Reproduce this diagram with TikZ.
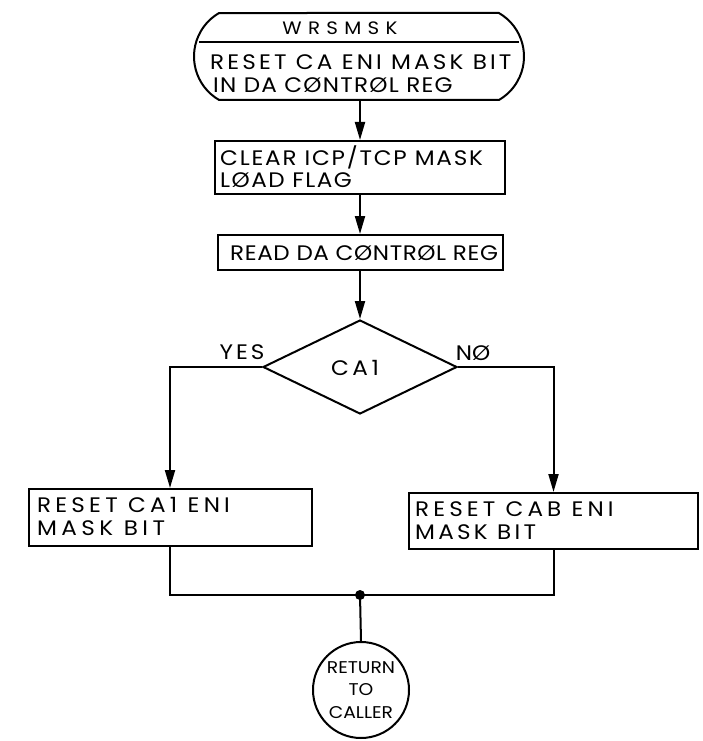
\documentclass[tikz,border=0pt]{standalone}
\usepackage{fontspec}
\setmainfont{Poppins}[FakeStretch=1.1]
\usetikzlibrary{arrows.meta,shapes.geometric,shapes.misc}
\newcommand{\lsp}[1]{\addfontfeatures{LetterSpace=#1}}
\begin{document}
\begin{tikzpicture}[x=1pt,y=-1pt,
  every node/.style={font=\fontsize{21}{24}\selectfont},
  proc/.style={draw,line width=2pt,rectangle,inner sep=0pt},
  txt/.style={anchor=west,inner sep=0pt},
  lab/.style={inner sep=0pt},
  flow/.style={line width=2pt,-{Triangle[length=18pt,width=10pt]}},
  wire/.style={line width=2pt}]
\useasboundingbox (0,0) rectangle (703,741);
% terminal
\node[draw,line width=2pt,rounded rectangle,rounded rectangle arc length=120,
      minimum width=330pt,minimum height=87pt,inner sep=0pt] (term) at (359,56.5) {};
\draw[wire] (199,42) -- (519,42);
\node[lab,font=\fontsize{18}{20}\selectfont\lsp{35}] (t1) at (340,28) {WRSMSK};
\node[txt,font=\fontsize{21}{24}\selectfont\lsp{15}] (t2) at (210,62) {RESET CA ENI MASK BIT};
\node[txt,font=\fontsize{21}{24}\selectfont\lsp{6}] (t3) at (213,85) {IN DA CØNTRØL REG};
% boxes
\node[proc,minimum width=290pt,minimum height=53pt] (b2) at (360,167.5) {};
\node[txt,font=\fontsize{21}{24}\selectfont\lsp{8.5}] (b2a) at (220,157) {CLEAR ICP/TCP MASK};
\node[txt,font=\fontsize{21}{24}\selectfont\lsp{7}] (b2b) at (220,180) {LØAD FLAG};
\node[proc,minimum width=285pt,minimum height=35pt] (b3) at (360,252.5) {};
\node[txt,font=\fontsize{21}{24}\selectfont\lsp{2.8}] (b3t) at (230,253) {READ DA CØNTRØL REG};
% decision
\node[draw,line width=2pt,diamond,minimum width=194pt,minimum height=94pt,inner sep=0pt] (dia) at (360,367) {};
\node[lab,font=\fontsize{21}{24}\selectfont\lsp{17}] (ca) at (355,368) {CA1};
\node[lab,font=\fontsize{21}{24}\selectfont\lsp{14}] (yes) at (242,352) {YES};
\node[lab] (no) at (473,353) {NØ};
% branch boxes
\node[proc,minimum width=283pt,minimum height=57pt] (bl) at (170,517.5) {};
\node[txt,font=\fontsize{21}{24}\selectfont\lsp{20}] (bl1) at (37,505) {RESET CA1 ENI};
\node[txt,font=\fontsize{21}{24}\selectfont\lsp{21}] (bl2) at (37,528) {MASK BIT};
\node[proc,minimum width=289pt,minimum height=56pt] (br) at (553.5,521) {};
\node[txt,font=\fontsize{21}{24}\selectfont\lsp{19.5}] (br1) at (415,509) {RESET CAB ENI};
\node[txt,font=\fontsize{21}{24}\selectfont\lsp{15.5}] (br2) at (415,532) {MASK BIT};
% junction and end
\coordinate (j) at (360,595);
\node[draw,line width=2pt,circle,minimum size=96pt,inner sep=0pt,align=center,
      font=\fontsize{17}{22.5}\selectfont] (ret) at (361,690) {RETURN\\TO\\CALLER};
% connectors
\draw[flow] (term.south -| b2.north) -- (b2.north);
\draw[flow] (b2.south) -- (b3.north);
\draw[flow] (b3.south) -- (dia.north);
\draw[flow] (dia.west) -| (bl.north);
\draw[flow] (dia.east) -| (br.north);
\draw[wire] (bl.south) |- (j);
\draw[wire] (br.south) |- (j);
\draw[wire] (j) -- (ret.north);
\fill (j) circle (5pt);
\end{tikzpicture}
\end{document}
